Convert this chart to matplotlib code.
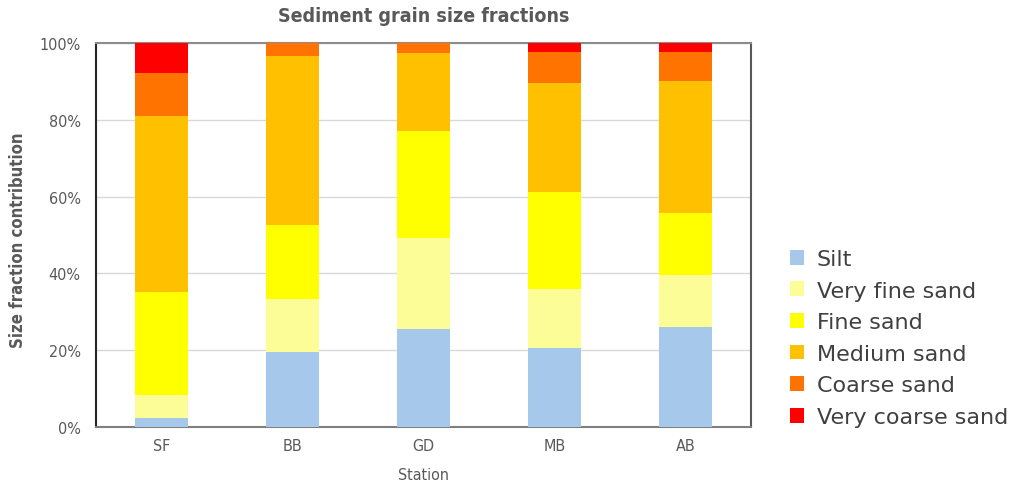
import matplotlib
matplotlib.use("Agg")
import matplotlib.pyplot as plt
from matplotlib.patches import Patch
import numpy as np

plt.rcParams["font.family"] = ["DejaVu Sans"]
plt.rcParams["font.stretch"] = "condensed"

stations = ["SF", "BB", "GD", "MB", "AB"]
fractions = ["Silt", "Very fine sand", "Fine sand", "Medium sand", "Coarse sand", "Very coarse sand"]

# percent contribution per station, one list per size class
silt = [2.4, 19.6, 25.5, 20.5, 26.2]
very_fine_sand = [6.1, 13.7, 23.7, 15.5, 13.3]
fine_sand = [26.6, 19.2, 27.8, 25.3, 16.2]
medium_sand = [45.8, 44.1, 20.3, 28.1, 34.3]
coarse_sand = [11.3, 3.4, 2.7, 8.1, 7.6]
very_coarse_sand = [7.8, 0.0, 0.0, 2.5, 2.4]

colors = ["#A6C8EA", "#FDFD98", "#FFFF00", "#FFC000", "#FF7400", "#FF0000"]
series = [silt, very_fine_sand, fine_sand, medium_sand, coarse_sand, very_coarse_sand]

fig = plt.figure(figsize=(10.25, 4.89), dpi=100)
ax = fig.add_axes([96 / 1025, 1 - 428.3 / 489, 655 / 1025, 384.6 / 489])

x = np.arange(len(stations))
bottom = np.zeros(len(stations))
for vals, col in zip(series, colors):
    vals = np.array(vals)
    ax.bar(x, vals, 0.4, bottom=bottom, color=col, zorder=3)
    bottom += vals

ax.set_xlim(-0.5, 4.5)
ax.set_ylim(0, 100)
ax.set_yticks(range(0, 101, 20))
ax.set_yticklabels([f"{v}%" for v in range(0, 101, 20)])
ax.set_xticks(x)
ax.set_xticklabels(stations)
ax.tick_params(length=0, labelsize=11.5, labelcolor="#595959")
ax.tick_params(axis="y", pad=11)
ax.tick_params(axis="x", pad=8)
ax.grid(axis="y", color="#d9d9d9", linewidth=1, zorder=0)

ax.spines["left"].set_color("#262626")
ax.spines["right"].set_color("#595959")
ax.spines["top"].set_color("#8c8c8c")
ax.spines["bottom"].set_color("#7f7f7f")
for s in ax.spines.values():
    s.set_linewidth(1.5)

ax.set_xlabel("Station", fontsize=11.5, color="#595959", labelpad=10)
fig.text(18 / 1025, 1 - 240 / 489, "Size fraction contribution", rotation=90,
         ha="center", va="center", fontsize=12, fontweight="bold", color="#595959")
fig.text(423.5 / 1025, 1 - 16 / 489, "Sediment grain size fractions",
         ha="center", va="center", fontsize=14, fontweight="bold", color="#595959")

handles = [Patch(facecolor=c, edgecolor="none") for c in colors]
fig.legend(handles, fractions, loc="center left", bbox_to_anchor=(770 / 1025, 1 - 339 / 489),
           frameon=False, prop={"family": "DejaVu Sans", "stretch": "normal", "size": 16},
           handlelength=0.65, handleheight=0.65, handletextpad=0.55, labelspacing=0.52,
           labelcolor="#404040")

fig.savefig("out.png", dpi=100)
